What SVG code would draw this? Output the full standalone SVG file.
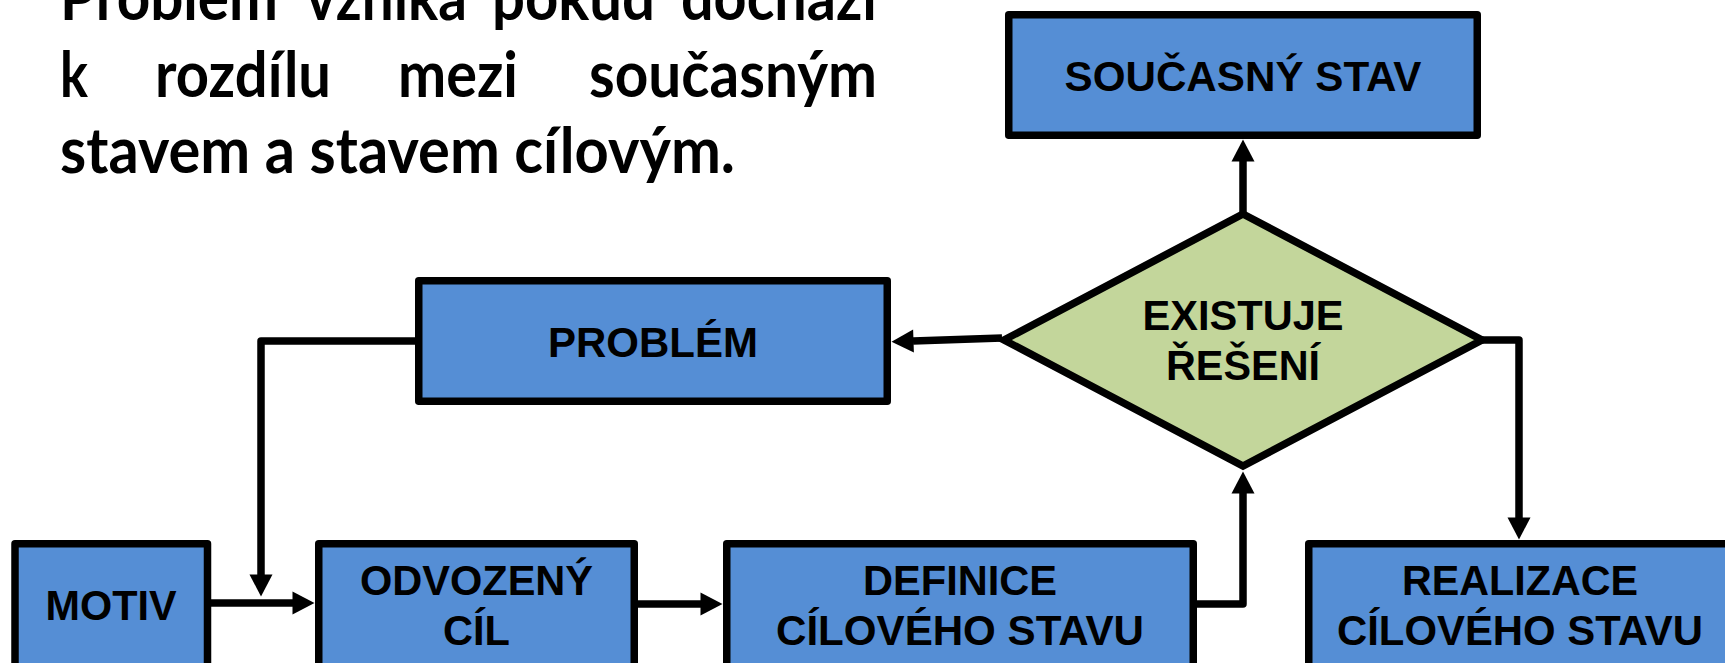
<svg xmlns="http://www.w3.org/2000/svg" width="1725" height="663" viewBox="0 0 1725 663">
<style>
.box{fill:#558ED5;stroke:#000;stroke-width:7.5;stroke-linejoin:round}
.dia{fill:#C3D69B;stroke:#000;stroke-width:7.5;stroke-linejoin:miter;stroke-miterlimit:10}
.lbl{font-family:"Liberation Sans",Arial,sans-serif;font-weight:bold;font-size:43px;fill:#000;text-anchor:middle}
.body{font-family:Lato,"Open Sans",sans-serif;font-weight:bold;font-size:64px;fill:#000}
.con{fill:none;stroke:#000;stroke-width:7.5;stroke-linejoin:round}
</style>
<defs>
<marker id="ah" markerUnits="userSpaceOnUse" markerWidth="23" markerHeight="24" refX="0.5" refY="11.5" orient="auto" overflow="visible">
<path d="M0,0 L22,11.5 L0,23 Z" fill="#000"/>
</marker>
</defs>
<rect width="1725" height="663" fill="#fff"/>
<g id="intro">
<text class="body" x="60" y="20" textLength="218" lengthAdjust="spacingAndGlyphs">Problém</text>
<text class="body" x="306" y="20" textLength="161" lengthAdjust="spacingAndGlyphs">vzniká</text>
<text class="body" x="492" y="20" textLength="163" lengthAdjust="spacingAndGlyphs">pokud</text>
<text class="body" x="681" y="20" textLength="196" lengthAdjust="spacingAndGlyphs">dochází</text>
<text class="body" x="60" y="97" textLength="28" lengthAdjust="spacingAndGlyphs">k</text>
<text class="body" x="155" y="97" textLength="176" lengthAdjust="spacingAndGlyphs">rozdílu</text>
<text class="body" x="398" y="97" textLength="120" lengthAdjust="spacingAndGlyphs">mezi</text>
<text class="body" x="589" y="97" textLength="288" lengthAdjust="spacingAndGlyphs">současným</text>
<text class="body" x="60" y="173" textLength="675" lengthAdjust="spacingAndGlyphs">stavem a stavem cílovým.</text>
</g>
<g id="connectors">
<path class="con" d="M1243,212 L1243,161" marker-end="url(#ah)"/>
<path class="con" d="M1002,338 L913,341" marker-end="url(#ah)"/>
<path class="con" d="M415,341 L261,341 L261,575" marker-end="url(#ah)"/>
<path class="con" d="M211,603 L293,603" marker-end="url(#ah)"/>
<path class="con" d="M638,604 L701,604" marker-end="url(#ah)"/>
<path class="con" d="M1197,604 L1243,604 L1243,493" marker-end="url(#ah)"/>
<path class="con" d="M1482,340 L1519,340 L1519,518" marker-end="url(#ah)"/>
</g>
<g id="soucasny-stav">
<rect class="box" x="1008.75" y="14.75" width="468.5" height="120.5"/>
<text class="lbl" x="1243" y="91" textLength="357" lengthAdjust="spacingAndGlyphs">SOUČASNÝ STAV</text>
</g>
<g id="problem">
<rect class="box" x="418.75" y="280.75" width="468.5" height="120.5"/>
<text class="lbl" x="653" y="357" textLength="210" lengthAdjust="spacingAndGlyphs">PROBLÉM</text>
</g>
<g id="existuje-reseni">
<polygon class="dia" points="1243,214 1482,340 1243,466 1004,340"/>
<text class="lbl" x="1243" y="330" textLength="201" lengthAdjust="spacingAndGlyphs">EXISTUJE</text>
<text class="lbl" x="1243" y="380" textLength="154" lengthAdjust="spacingAndGlyphs">ŘEŠENÍ</text>
</g>
<g id="motiv">
<rect class="box" x="15" y="543.75" width="192.5" height="160"/>
<text class="lbl" x="111" y="620" textLength="131" lengthAdjust="spacingAndGlyphs">MOTIV</text>
</g>
<g id="odvozeny-cil">
<rect class="box" x="318.75" y="543.75" width="315.5" height="160"/>
<text class="lbl" x="476.5" y="595" textLength="233" lengthAdjust="spacingAndGlyphs">ODVOZENÝ</text>
<text class="lbl" x="476.5" y="645" textLength="67" lengthAdjust="spacingAndGlyphs">CÍL</text>
</g>
<g id="definice">
<rect class="box" x="726.75" y="543.75" width="466.5" height="160"/>
<text class="lbl" x="960" y="595" textLength="194" lengthAdjust="spacingAndGlyphs">DEFINICE</text>
<text class="lbl" x="960" y="645" textLength="368" lengthAdjust="spacingAndGlyphs">CÍLOVÉHO STAVU</text>
</g>
<g id="realizace">
<rect class="box" x="1308.75" y="543.75" width="422.5" height="160"/>
<text class="lbl" x="1520" y="595" textLength="236" lengthAdjust="spacingAndGlyphs">REALIZACE</text>
<text class="lbl" x="1520" y="645" textLength="366" lengthAdjust="spacingAndGlyphs">CÍLOVÉHO STAVU</text>
</g>
</svg>
